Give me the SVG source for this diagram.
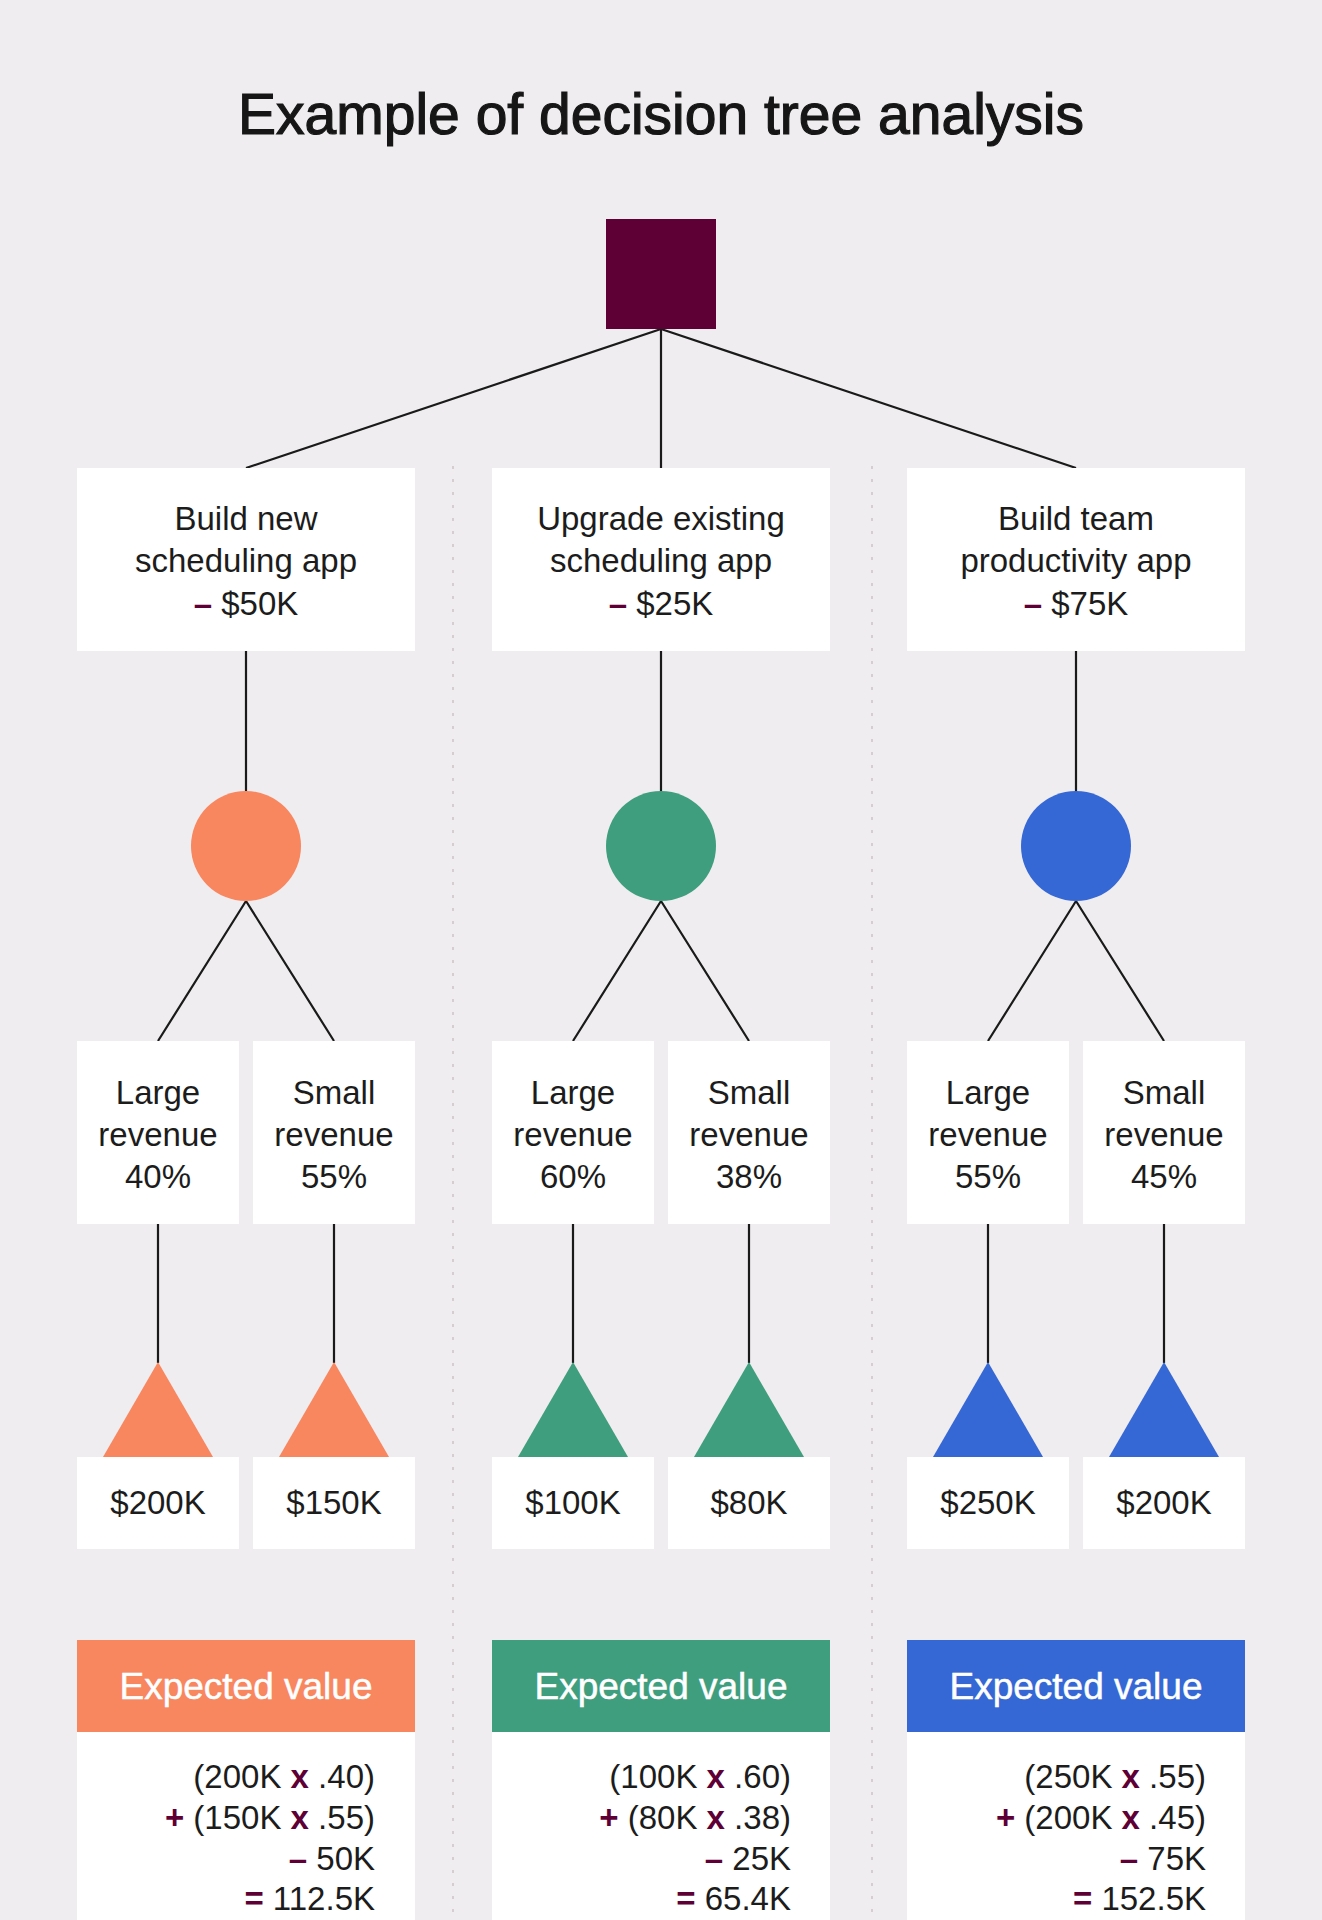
<svg xmlns="http://www.w3.org/2000/svg" width="1322" height="1920" viewBox="0 0 1322 1920">
<defs>
<style>
.t{font-family:"Liberation Sans",Arial,sans-serif;font-size:33px;fill:#1c1c1c;text-anchor:middle}
.f{font-family:"Liberation Sans",Arial,sans-serif;font-size:33px;fill:#1c1c1c;text-anchor:end}
.m{fill:#5e0035;font-weight:bold}
.h{font-family:"Liberation Sans",Arial,sans-serif;font-size:37px;fill:#ffffff;text-anchor:middle;stroke:#ffffff;stroke-width:0.5}
.box{fill:#ffffff}
.ln{stroke:#1a1a1a;stroke-width:2.2;fill:none}
.sep{stroke:#d6cdd1;stroke-width:2;stroke-dasharray:3 10;fill:none}
.o{fill:#f8865f}
.g{fill:#3f9e7e}
.b{fill:#3568d5}
</style>
</defs>
<rect width="1322" height="1920" fill="#efedef"/>
<g id="separators">
<line class="sep" x1="453" y1="466" x2="453" y2="1920"/>
<line class="sep" x1="872" y1="466" x2="872" y2="1920"/>
</g>
<g id="title">
<text x="661" y="134" style="font-family:'Liberation Sans',Arial,sans-serif;font-size:57px;fill:#161616;text-anchor:middle;stroke:#161616;stroke-width:1.2">Example of decision tree analysis</text>
</g>
<g id="connectors">
<path class="ln" d="M661,329 L246,468 M661,329 L661,468 M661,329 L1076,468"/>
<path class="ln" d="M246,651 L246,792 M246,901 L158,1041 M246,901 L334,1041 M158,1224 L158,1363 M334,1224 L334,1363"/>
<path class="ln" d="M661,651 L661,792 M661,901 L573,1041 M661,901 L749,1041 M573,1224 L573,1363 M749,1224 L749,1363"/>
<path class="ln" d="M1076,651 L1076,792 M1076,901 L988,1041 M1076,901 L1164,1041 M988,1224 L988,1363 M1164,1224 L1164,1363"/>
</g>
<g id="root">
<rect x="606" y="219" width="110" height="110" fill="#5e0035"/>
</g>
<g id="option-1">
<rect class="box" x="77" y="468" width="338" height="183"/>
<text class="t" x="246" y="530">Build new</text>
<text class="t" x="246" y="572">scheduling app</text>
<text class="t" x="246" y="615"><tspan class="m">–</tspan> $50K</text>
</g>
<g id="option-2">
<rect class="box" x="492" y="468" width="338" height="183"/>
<text class="t" x="661" y="530">Upgrade existing</text>
<text class="t" x="661" y="572">scheduling app</text>
<text class="t" x="661" y="615"><tspan class="m">–</tspan> $25K</text>
</g>
<g id="option-3">
<rect class="box" x="907" y="468" width="338" height="183"/>
<text class="t" x="1076" y="530">Build team</text>
<text class="t" x="1076" y="572">productivity app</text>
<text class="t" x="1076" y="615"><tspan class="m">–</tspan> $75K</text>
</g>
<g id="chance-1"><circle class="o" cx="246" cy="846" r="55"/></g>
<g id="chance-2"><circle class="g" cx="661" cy="846" r="55"/></g>
<g id="chance-3"><circle class="b" cx="1076" cy="846" r="55"/></g>
<g id="outcome-1a">
<rect class="box" x="77" y="1041" width="162" height="183"/>
<text class="t" x="158" y="1104">Large</text><text class="t" x="158" y="1146">revenue</text><text class="t" x="158" y="1188">40%</text>
</g>
<g id="outcome-1b">
<rect class="box" x="253" y="1041" width="162" height="183"/>
<text class="t" x="334" y="1104">Small</text><text class="t" x="334" y="1146">revenue</text><text class="t" x="334" y="1188">55%</text>
</g>
<g id="outcome-2a">
<rect class="box" x="492" y="1041" width="162" height="183"/>
<text class="t" x="573" y="1104">Large</text><text class="t" x="573" y="1146">revenue</text><text class="t" x="573" y="1188">60%</text>
</g>
<g id="outcome-2b">
<rect class="box" x="668" y="1041" width="162" height="183"/>
<text class="t" x="749" y="1104">Small</text><text class="t" x="749" y="1146">revenue</text><text class="t" x="749" y="1188">38%</text>
</g>
<g id="outcome-3a">
<rect class="box" x="907" y="1041" width="162" height="183"/>
<text class="t" x="988" y="1104">Large</text><text class="t" x="988" y="1146">revenue</text><text class="t" x="988" y="1188">55%</text>
</g>
<g id="outcome-3b">
<rect class="box" x="1083" y="1041" width="162" height="183"/>
<text class="t" x="1164" y="1104">Small</text><text class="t" x="1164" y="1146">revenue</text><text class="t" x="1164" y="1188">45%</text>
</g>
<g id="end-1a"><polygon class="o" points="158,1362 103,1457 213,1457"/><rect class="box" x="77" y="1457" width="162" height="92"/><text class="t" x="158" y="1514">$200K</text></g>
<g id="end-1b"><polygon class="o" points="334,1362 279,1457 389,1457"/><rect class="box" x="253" y="1457" width="162" height="92"/><text class="t" x="334" y="1514">$150K</text></g>
<g id="end-2a"><polygon class="g" points="573,1362 518,1457 628,1457"/><rect class="box" x="492" y="1457" width="162" height="92"/><text class="t" x="573" y="1514">$100K</text></g>
<g id="end-2b"><polygon class="g" points="749,1362 694,1457 804,1457"/><rect class="box" x="668" y="1457" width="162" height="92"/><text class="t" x="749" y="1514">$80K</text></g>
<g id="end-3a"><polygon class="b" points="988,1362 933,1457 1043,1457"/><rect class="box" x="907" y="1457" width="162" height="92"/><text class="t" x="988" y="1514">$250K</text></g>
<g id="end-3b"><polygon class="b" points="1164,1362 1109,1457 1219,1457"/><rect class="box" x="1083" y="1457" width="162" height="92"/><text class="t" x="1164" y="1514">$200K</text></g>
<g id="expected-1">
<rect class="o" x="77" y="1640" width="338" height="92"/>
<rect class="box" x="77" y="1732" width="338" height="188"/>
<text class="h" x="246" y="1699">Expected value</text>
<text class="f" x="375" y="1788">(200K <tspan class="m">x</tspan> .40)</text>
<text class="f" x="375" y="1829"><tspan class="m">+</tspan> (150K <tspan class="m">x</tspan> .55)</text>
<text class="f" x="375" y="1870"><tspan class="m">–</tspan> 50K</text>
<text class="f" x="375" y="1910"><tspan class="m">=</tspan> 112.5K</text>
</g>
<g id="expected-2">
<rect class="g" x="492" y="1640" width="338" height="92"/>
<rect class="box" x="492" y="1732" width="338" height="188"/>
<text class="h" x="661" y="1699">Expected value</text>
<text class="f" x="791" y="1788">(100K <tspan class="m">x</tspan> .60)</text>
<text class="f" x="791" y="1829"><tspan class="m">+</tspan> (80K <tspan class="m">x</tspan> .38)</text>
<text class="f" x="791" y="1870"><tspan class="m">–</tspan> 25K</text>
<text class="f" x="791" y="1910"><tspan class="m">=</tspan> 65.4K</text>
</g>
<g id="expected-3">
<rect class="b" x="907" y="1640" width="338" height="92"/>
<rect class="box" x="907" y="1732" width="338" height="188"/>
<text class="h" x="1076" y="1699">Expected value</text>
<text class="f" x="1206" y="1788">(250K <tspan class="m">x</tspan> .55)</text>
<text class="f" x="1206" y="1829"><tspan class="m">+</tspan> (200K <tspan class="m">x</tspan> .45)</text>
<text class="f" x="1206" y="1870"><tspan class="m">–</tspan> 75K</text>
<text class="f" x="1206" y="1910"><tspan class="m">=</tspan> 152.5K</text>
</g>
</svg>
